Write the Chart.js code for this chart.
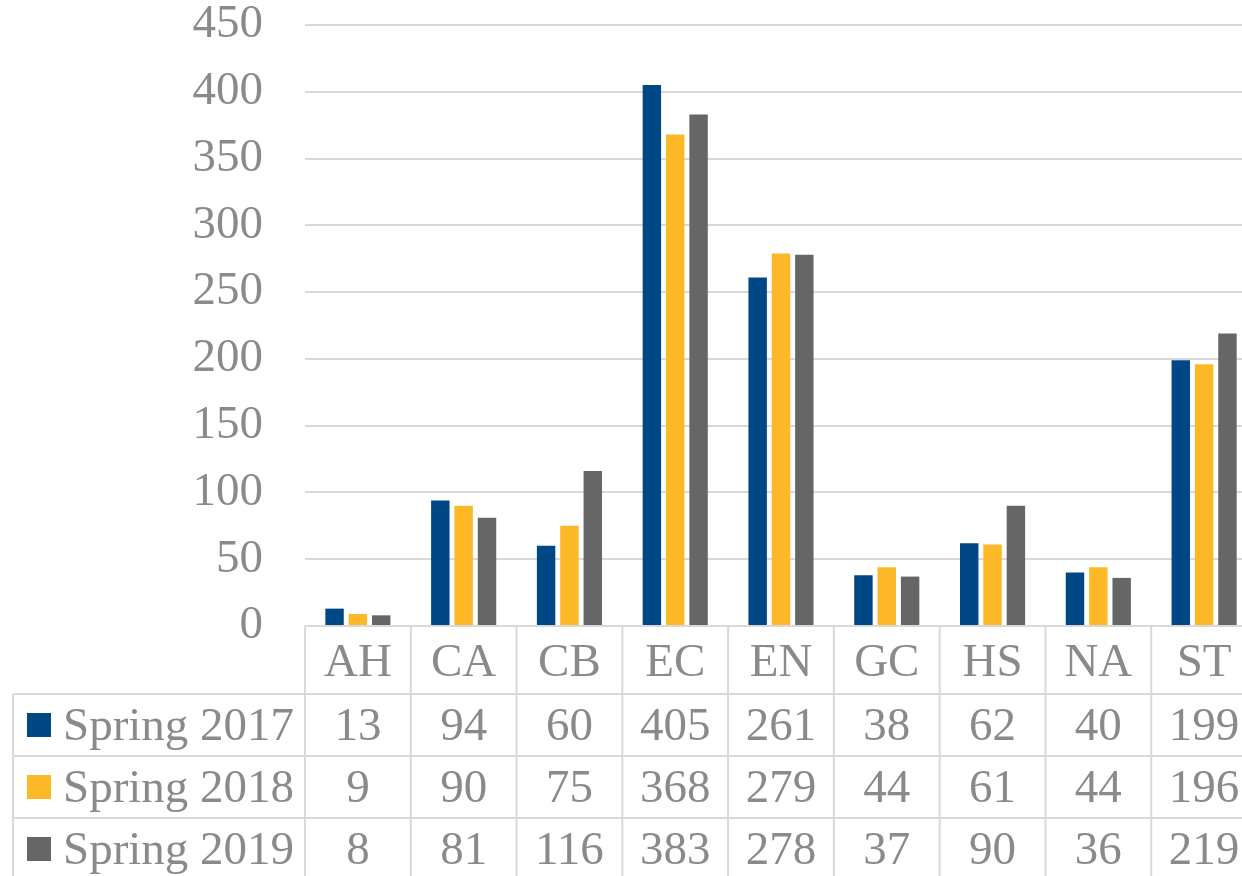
<!DOCTYPE html>
<html>
<head>
<meta charset="utf-8">
<script src="https://cdn.jsdelivr.net/npm/chart.js@4"></script>
<style>
    html, body { margin: 0; padding: 0; background: #fff; overflow: hidden; }
    #wrap { width: 1260px; height: 876px; position: relative; }
</style>
</head>
<body>
<div id="wrap"><canvas id="termChart"></canvas></div>
<script>
const categories = ['AH', 'CA', 'CB', 'EC', 'EN', 'GC', 'HS', 'NA', 'ST'];
const seriesNames = ['Spring 2017', 'Spring 2018', 'Spring 2019'];
const spring2017 = [13, 94, 60, 405, 261, 38, 62, 40, 199];
const spring2018 = [9, 90, 75, 368, 279, 44, 61, 44, 196];
const spring2019 = [8, 81, 116, 383, 278, 37, 90, 36, 219];
const seriesColors = ['#004785', '#FDB827', '#666666'];

const textColor = '#8a8a8a';
const lineColor = '#d9d9d9';
const fontFamily = '"Liberation Serif", "Times New Roman", serif';

// data table under the plot (Excel style)
const dataTablePlugin = {
    id: 'dataTable',
    afterDraw(chart) {
        const ctx = chart.ctx;
        const x = chart.scales.x;
        const area = chart.chartArea;
        const allSeries = [spring2017, spring2018, spring2019];
        const half = (x.getPixelForValue(1) - x.getPixelForValue(0)) / 2;
        const tableLeft = 13;
        const headerTop = area.bottom;
        const rowTops = [694, 756, 818];
        const bottom = chart.height;

        ctx.save();
        ctx.strokeStyle = lineColor;
        ctx.lineWidth = 2;

        // horizontal lines
        ctx.beginPath();
        ctx.moveTo(area.left, headerTop);
        ctx.lineTo(chart.width, headerTop);
        rowTops.forEach(y => {
            ctx.moveTo(tableLeft, y);
            ctx.lineTo(chart.width, y);
        });
        // vertical lines
        ctx.moveTo(tableLeft, rowTops[0]);
        ctx.lineTo(tableLeft, bottom);
        for (let i = 0; i <= categories.length; i++) {
            const px = x.getPixelForValue(0) - half + i * half * 2;
            ctx.moveTo(px, headerTop);
            ctx.lineTo(px, bottom);
        }
        ctx.stroke();

        ctx.font = '47px ' + fontFamily;
        ctx.fillStyle = textColor;
        ctx.textAlign = 'center';
        ctx.textBaseline = 'alphabetic';

        categories.forEach((c, i) => {
            ctx.fillText(c, x.getPixelForValue(i), 676);
        });

        allSeries.forEach((vals, r) => {
            const base = rowTops[r] + 46;
            ctx.fillStyle = seriesColors[r];
            ctx.fillRect(27, rowTops[r] + 19, 24, 24);
            ctx.fillStyle = textColor;
            ctx.textAlign = 'left';
            ctx.fillText(seriesNames[r], 63, base);
            ctx.textAlign = 'center';
            vals.forEach((v, i) => {
                ctx.fillText(String(v), x.getPixelForValue(i), base);
            });
        });
        ctx.restore();
    }
};

const ctx = document.getElementById('termChart').getContext('2d');

new Chart(ctx, {
    type: 'bar',
    data: {
        labels: categories,
        datasets: [spring2017, spring2018, spring2019].map((vals, i) => ({
            label: seriesNames[i],
            data: vals,
            backgroundColor: seriesColors[i],
            borderWidth: 0,
            categoryPercentage: 0.662,
            barPercentage: 0.79
        }))
    },
    options: {
        responsive: true,
        maintainAspectRatio: false,
        animation: false,
        layout: { padding: { top: 25, right: 3, bottom: 250, left: 0 } },
        plugins: {
            legend: { display: false },
            tooltip: { enabled: false }
        },
        scales: {
            x: { display: false },
            y: {
                min: 0,
                max: 450,
                ticks: {
                    stepSize: 50,
                    color: textColor,
                    padding: 42,
                    font: { family: fontFamily, size: 47, lineHeight: 1 }
                },
                grid: { color: lineColor, lineWidth: 2, drawTicks: false },
                border: { display: false },
                afterFit(scale) {
                    scale.width = 305;
                    scale.paddingTop = 0;
                    scale.paddingBottom = 0;
                }
            }
        }
    },
    plugins: [dataTablePlugin]
});
</script>
</body>
</html>
